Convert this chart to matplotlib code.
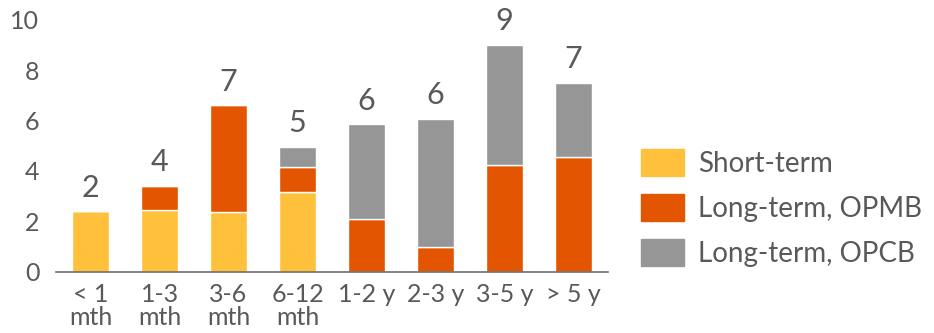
import matplotlib.pyplot as plt
import matplotlib.patches as mpatches
import numpy as np

plt.rcParams['font.family'] = ['Lato', 'DejaVu Sans']

categories = ["< 1\nmth", "1-3\nmth", "3-6\nmth", "6-12\nmth", "1-2 y", "2-3 y", "3-5 y", "> 5 y"]
shortTerm = [2.4, 2.45, 2.35, 3.15, 0, 0, 0, 0]
longOPMB = [0, 0.95, 4.25, 1.0, 2.1, 1.0, 4.25, 4.55]
longOPCB = [0, 0, 0, 0.8, 3.75, 5.05, 4.75, 2.95]
topLabels = ["2", "4", "7", "5", "6", "6", "9", "7"]
seriesNames = ["Short-term", "Long-term, OPMB", "Long-term, OPCB"]

YELLOW = "#FFC13B"
ORANGE = "#E35500"
GREY = "#969696"
TEXT = "#595959"

fig = plt.figure(figsize=(9.34, 3.33), dpi=100)
ax = fig.add_axes([0.06, 0.184, 0.591, 0.757])

x = np.arange(len(categories))
short = np.array(shortTerm)
opmb = np.array(longOPMB)
opcb = np.array(longOPCB)
width = 0.54

# stacked bars
ax.bar(x, short, width, color=YELLOW, edgecolor="white", linewidth=1.0)
ax.bar(x, opmb, width, bottom=short, color=ORANGE, edgecolor="white", linewidth=1.0)
ax.bar(x, opcb, width, bottom=short + opmb, color=GREY, edgecolor="white", linewidth=1.0)

# labels above bars
totals = short + opmb + opcb
for xi, tot, lab in zip(x, totals, topLabels):
    ax.annotate(lab, (xi, tot), xytext=(0, 7), textcoords="offset points",
                ha="center", va="bottom", fontsize=22, color=TEXT)

ax.set_xlim(-0.5, 7.5)
ax.set_ylim(0, 10)
ax.set_yticks([0, 2, 4, 6, 8, 10])
ax.set_xticks(x)
ax.set_xticklabels(categories, linespacing=1.0)
ax.tick_params(axis="y", length=0, pad=12, labelsize=18, labelcolor=TEXT)
ax.tick_params(axis="x", length=0, pad=8, labelsize=18, labelcolor=TEXT)
for side in ["top", "right", "left"]:
    ax.spines[side].set_visible(False)
ax.spines["bottom"].set_color("#707070")
ax.spines["bottom"].set_linewidth(1.2)

handles = [mpatches.Patch(color=c) for c in [YELLOW, ORANGE, GREY]]
fig.legend(handles, seriesNames, loc="center left", bbox_to_anchor=(0.686, 0.375),
           frameon=False, fontsize=20, labelcolor=TEXT, handlelength=1.55,
           handleheight=1.1, handletextpad=0.5, labelspacing=0.62,
           borderpad=0, borderaxespad=0)

fig.savefig("out.png", dpi=100)
